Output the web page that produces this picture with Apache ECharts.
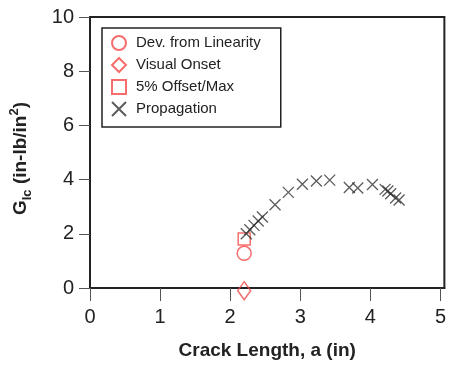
<!DOCTYPE html>
<html>
<head>
<meta charset="utf-8">
<script src="https://cdn.jsdelivr.net/npm/echarts@6/dist/echarts.min.js"></script>
<style>
  html, body { margin: 0; padding: 0; background: #fff; }
  #chart { width: 449px; height: 367px; }
</style>
</head>
<body>
<div id="chart"></div>
<script>
// Crack length a (in) and strain energy release rate G_Ic (in-lb/in^2)
const devLinearityA = [2.20];
const devLinearityG = [1.28];

const visualOnsetA = [2.20];
const visualOnsetG = [-0.1];

const offsetMaxA = [2.20];
const offsetMaxG = [1.81];

const propagationA = [2.23, 2.28, 2.34, 2.40, 2.46, 2.64, 2.83, 3.03, 3.23, 3.42, 3.70, 3.82, 4.03, 4.21, 4.25, 4.29, 4.36, 4.41];
const propagationG = [2.00, 2.15, 2.31, 2.47, 2.62, 3.07, 3.53, 3.83, 3.95, 3.98, 3.71, 3.69, 3.82, 3.64, 3.58, 3.48, 3.32, 3.25];

const xTicks = [0, 1, 2, 3, 4, 5];
const yTicks = [0, 2, 4, 6, 8, 10];

const seriesNames = ['Dev. from Linearity', 'Visual Onset', '5% Offset/Max', 'Propagation'];

const pairs = (xs, ys) => xs.map((x, i) => [x, ys[i]]);

const FONT = 'Liberation Sans, Arial, sans-serif';
const RED = '#f24848';
const CROSS = 'path://M0 0L10 10M10 0L0 10';

const openStyle = (c, w) => ({ color: 'rgba(0,0,0,0)', borderColor: c, borderWidth: w });

const chart = echarts.init(document.getElementById('chart'), null, { renderer: 'canvas' });

chart.setOption({
  animation: false,
  backgroundColor: '#fff',
  grid: {
    left: 89, top: 17, right: 2, bottom: 79,
    show: true, borderColor: '#222', borderWidth: 2, backgroundColor: 'transparent'
  },
  legend: {
    orient: 'vertical',
    left: 102, top: 28,
    data: seriesNames,
    borderColor: '#222', borderWidth: 1.5,
    padding: [7, 20, 10, 9],
    itemGap: 6,
    itemWidth: 14, itemHeight: 14,
    textStyle: { fontFamily: FONT, fontSize: 15, color: '#222', lineHeight: 16, padding: [0, 0, 0, 5] }
  },
  xAxis: {
    type: 'value',
    min: 0, max: 5.056,
    name: 'Crack Length, a (in)',
    nameLocation: 'middle',
    nameGap: 53,
    nameTextStyle: { fontFamily: FONT, fontSize: 19, fontWeight: 'bold', color: '#222' },
    axisLine: { show: true, onZero: false, lineStyle: { color: '#222', width: 2 } },
    axisTick: { show: true, length: 13, customValues: xTicks, lineStyle: { color: '#555', width: 1 } },
    axisLabel: { customValues: xTicks, margin: 19, fontFamily: FONT, fontSize: 20, color: '#222' },
    splitLine: { show: false }
  },
  yAxis: {
    type: 'value',
    min: 0, max: 10, interval: 2,
    name: '{b|G}{sub|Ic}{b| (in-lb/in}{sup|2}{b|)}',
    nameLocation: 'middle',
    nameRotate: 90,
    nameGap: 56,
    nameTextStyle: {
      fontFamily: FONT, fontSize: 19, fontWeight: 'bold', color: '#222',
      padding: [0, 12, 0, 0],
      rich: {
        b: { fontFamily: FONT, fontSize: 19, fontWeight: 'bold', color: '#222', lineHeight: 26, verticalAlign: 'middle' },
        sub: { fontFamily: FONT, fontSize: 13, fontWeight: 'bold', color: '#222', lineHeight: 26, verticalAlign: 'bottom' },
        sup: { fontFamily: FONT, fontSize: 13, fontWeight: 'bold', color: '#222', lineHeight: 26, verticalAlign: 'top' }
      }
    },
    axisLine: { show: true, onZero: false, lineStyle: { color: '#222', width: 2 } },
    axisTick: { show: true, length: 11, lineStyle: { color: '#555', width: 1 } },
    axisLabel: { margin: 16, fontFamily: FONT, fontSize: 20, color: '#222' },
    splitLine: { show: false }
  },
  series: [
    {
      name: seriesNames[0], type: 'scatter', clip: false,
      symbol: 'circle', symbolSize: 14,
      itemStyle: openStyle(RED, 1.5),
      data: pairs(devLinearityA, devLinearityG)
    },
    {
      name: seriesNames[1], type: 'scatter', clip: false,
      symbol: 'diamond', symbolSize: [13, 18],
      itemStyle: openStyle(RED, 1.5),
      data: pairs(visualOnsetA, visualOnsetG)
    },
    {
      name: seriesNames[2], type: 'scatter', clip: false,
      symbol: 'rect', symbolSize: 12,
      itemStyle: openStyle(RED, 1.5),
      data: pairs(offsetMaxA, offsetMaxG)
    },
    {
      name: seriesNames[3], type: 'scatter', clip: false,
      symbol: CROSS, symbolSize: 11,
      itemStyle: openStyle('#333', 1.3),
      data: pairs(propagationA, propagationG)
    }
  ]
});
</script>
</body>
</html>
